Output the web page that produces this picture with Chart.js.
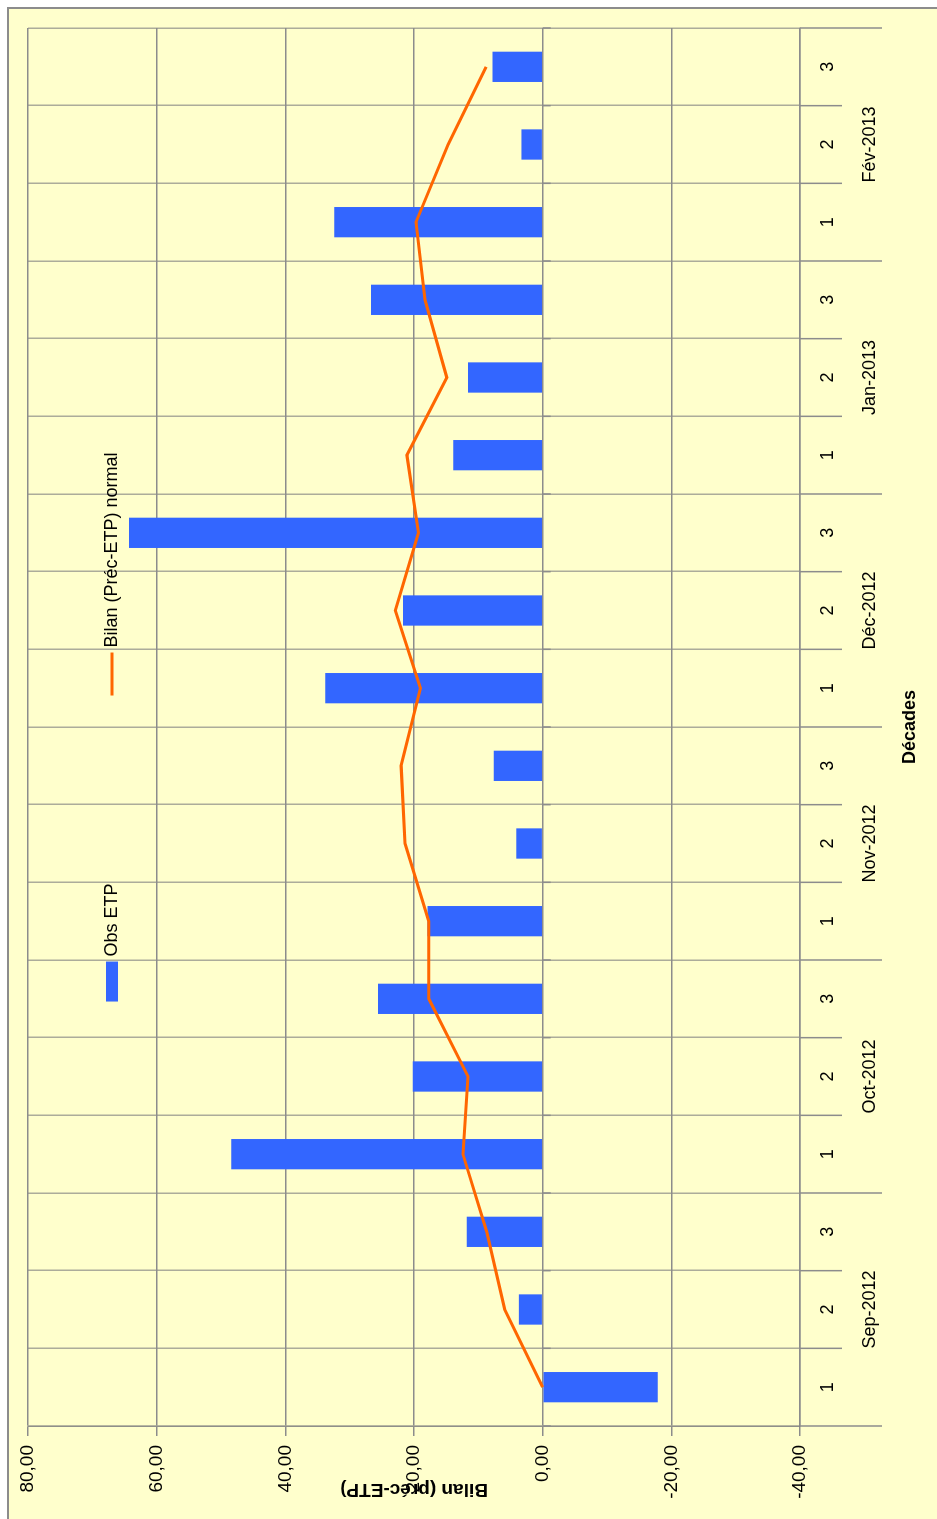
<!DOCTYPE html>
<html><head><meta charset="utf-8">
<script src="https://cdn.jsdelivr.net/npm/chart.js@4.4.1/dist/chart.umd.min.js"></script>
<style>
html,body{margin:0;padding:0;overflow:hidden;background:#fff;width:937px;height:1519px;}
#frame{position:absolute;left:7px;top:7px;width:930px;height:1512px;background:#FFFFCC;border-left:2px solid #8c8c8c;border-top:2px solid #8c8c8c;box-sizing:border-box;}
#rot{position:absolute;left:0;top:0;width:1519px;height:937px;transform-origin:0 0;transform:translateY(1519px) rotate(-90deg);}
canvas{display:block;}
</style></head><body>
<div id="frame"></div>
<div id="rot"><canvas id="c" width="1519" height="937"></canvas></div>
<script>
// ---- data ----
const decades = ['1','2','3','1','2','3','1','2','3','1','2','3','1','2','3','1','2','3'];
const months = ['Sep-2012','Oct-2012','Nov-2012','Déc-2012','Jan-2013','Fév-2013'];
const obsETP = [-17.9, 3.7, 11.8, 48.4, 20.2, 25.6, 17.9, 4.1, 7.6, 33.8, 21.7, 64.3, 13.9, 11.6, 26.7, 32.4, 3.3, 7.8];
const bilanNormal = [0, 5.9, 8.7, 12.4, 11.6, 17.7, 17.7, 21.4, 22.0, 19.0, 22.9, 19.3, 21.1, 14.9, 18.3, 19.7, 14.7, 8.8];
const valueTicks = [-40, -20, 0, 20, 40, 60, 80];
const seriesNames = ['Obs ETP', 'Bilan (Préc-ETP) normal'];
const axisTitles = ['Décades', 'Bilan (préc-ETP)'];

Chart.defaults.font.family = '"Liberation Sans", Arial, sans-serif';
Chart.defaults.color = '#000';

const FONT = '18px "Liberation Sans", Arial, sans-serif';
const GRID_V = '#8c8c8c';
const GRID_C = 'rgba(128,128,128,0.65)';

const decor = {
  id: 'decor',
  afterDraw(chart) {
    const {ctx, chartArea: a, scales: {x, y}} = chart;
    const n = decades.length;
    const half = (x.getPixelForValue(1) - x.getPixelForValue(0)) / 2;
    const y0 = y.getPixelForValue(0);
    ctx.save();
    ctx.strokeStyle = GRID_V;
    ctx.lineWidth = 1.5;
    for (let i = 0; i <= n; i++) {
      const px = i < n ? x.getPixelForValue(i) - half : x.getPixelForValue(n - 1) + half;
      const isGroup = (i === n) || decades[i] === '1';
      ctx.beginPath(); ctx.moveTo(px, a.bottom); ctx.lineTo(px, a.bottom + (isGroup ? 82 : 42)); ctx.stroke();
      ctx.beginPath(); ctx.moveTo(px, y0); ctx.lineTo(px, y0 + 8); ctx.stroke();
    }
    // month group labels
    ctx.fillStyle = '#000';
    ctx.font = FONT;
    ctx.textAlign = 'center';
    ctx.textBaseline = 'middle';
    let g = 0;
    for (let i = 0; i < n; i++) {
      if (decades[i] === '1') {
        let j = i; while (j + 1 < n && decades[j + 1] !== '1') j++;
        const px = (x.getPixelForValue(i) + x.getPixelForValue(j)) / 2;
        ctx.fillText(months[g++], px, a.bottom + 70);
      }
    }
    // legend (inside plot area, like the reference)
    const ds = chart.data.datasets;
    const w1 = ctx.measureText(ds[0].label).width;
    const w2 = ctx.measureText(ds[1].label).width;
    const b1 = 40, b2 = 43, gt = 5, gi = 188;
    const total = b1 + gt + w1 + gi + b2 + gt + w2;
    let cx = (a.left + a.right) / 2 - total / 2;
    const cy = a.top + 84;
    ctx.fillStyle = ds[0].backgroundColor;
    ctx.fillRect(cx, cy - 6, b1, 12);
    cx += b1 + gt;
    ctx.fillStyle = '#000';
    ctx.textAlign = 'left';
    ctx.fillText(ds[0].label, cx, cy);
    cx += w1 + gi;
    ctx.strokeStyle = ds[1].borderColor;
    ctx.lineWidth = 3;
    ctx.beginPath(); ctx.moveTo(cx, cy); ctx.lineTo(cx + b2, cy); ctx.stroke();
    cx += b2 + gt;
    ctx.fillText(ds[1].label, cx, cy);
    ctx.restore();
  }
};

new Chart(document.getElementById('c'), {
  type: 'bar',
  data: {
    labels: decades,
    datasets: [
      {
        type: 'bar', label: seriesNames[0], data: obsETP,
        backgroundColor: '#3366FF', borderWidth: 0,
        barPercentage: 0.39, categoryPercentage: 1, order: 2
      },
      {
        type: 'line', label: seriesNames[1], data: bilanNormal,
        borderColor: '#FF6600', borderWidth: 3, pointRadius: 0, tension: 0,
        fill: false, order: 1
      }
    ]
  },
  options: {
    responsive: false,
    animation: false,
    layout: {padding: {top: 28, right: 28, bottom: 0, left: 0}},
    plugins: {legend: {display: false}, tooltip: {enabled: false}},
    scales: {
      x: {
        offset: true,
        grid: {color: GRID_C, lineWidth: 1.5, offset: true, drawTicks: false},
        border: {display: true, color: GRID_V, width: 1.5},
        ticks: {font: {size: 18}, color: '#000', padding: 17, maxRotation: 0, autoSkip: false},
        title: {display: true, text: axisTitles[0], font: {size: 18, weight: 'bold'}, color: '#000', padding: {top: 0, bottom: 16}},
        afterFit: s => { s.height = 137; }
      },
      y: {
        min: valueTicks[0], max: valueTicks[valueTicks.length - 1],
        afterBuildTicks: s => { s.ticks = valueTicks.map(v => ({value: v})); },
        grid: {color: GRID_V, lineWidth: 1.5, tickLength: 10, tickColor: GRID_V},
        border: {display: true, color: GRID_C, width: 1.5},
        ticks: {font: {size: 19}, color: '#000', padding: 9, callback: v => Number(v).toFixed(2).replace('.', ',')},
        title: {display: true, text: axisTitles[1], font: {size: 19, weight: 'bold'}, color: '#000', padding: {top: 18, bottom: 0}},
        afterFit: s => { s.width = 93; }
      }
    }
  },
  plugins: [decor]
});
</script>
</body></html>
